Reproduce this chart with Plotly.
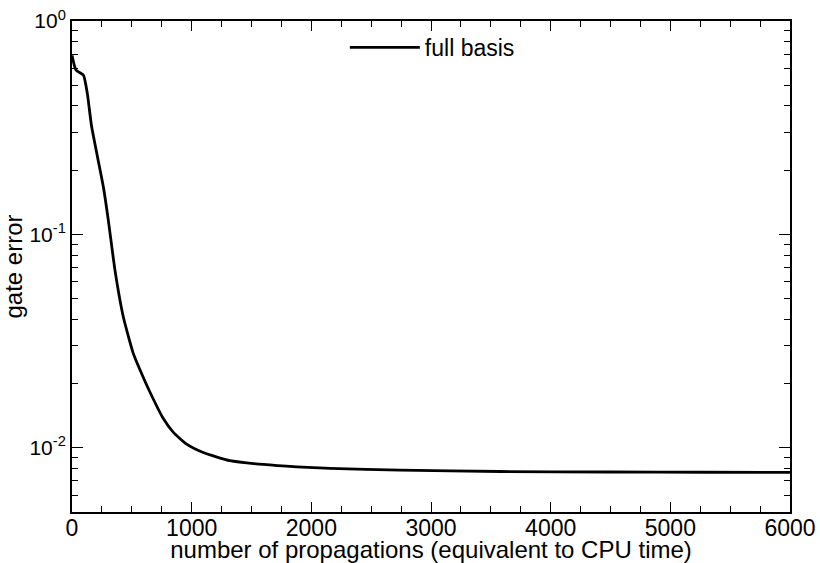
import numpy as np
import plotly.graph_objects as go

propagations = [0, 33, 95, 128, 164, 262, 303, 359, 429, 512, 568, 652, 763, 847,
                958, 1097, 1320, 1599, 1877, 2156, 2741, 3577, 4500, 5300, 6000]
gate_error = [0.69, 0.589, 0.558, 0.458, 0.32, 0.167, 0.117, 0.068, 0.041, 0.0277,
              0.0232, 0.0182, 0.0137, 0.0118, 0.0104, 0.0095, 0.0087, 0.00835,
              0.00814, 0.0080, 0.00785, 0.00774, 0.00770, 0.00768, 0.00766]

x_ticks = [0, 1000, 2000, 3000, 4000, 5000, 6000]
y_ticks = [1e-2, 1e-1, 1]
y_ticktext = ["10<sup>-2</sup>", "10<sup>-1</sup>", "10<sup>0</sup>"]
y_minor = [m * 10.0 ** e for e in (-3, -2, -1) for m in range(2, 10)]
x_minor = list(range(0, 6001, 250))

font = "Liberation Sans, Arial, sans-serif"
x_range = [0, 6000]
y_range = [float(np.log10(0.005)), 0]

fig = go.Figure()
fig.add_trace(go.Scatter(x=propagations, y=gate_error, mode="lines",
                         line=dict(color="black", width=2.8, shape="spline", smoothing=0.5),
                         name="full basis"))
# invisible copy on the mirrored axes so that their ticks are drawn
fig.add_trace(go.Scatter(x=propagations, y=gate_error, mode="lines", xaxis="x2", yaxis="y2",
                         line=dict(color="rgba(0,0,0,0)", width=0), showlegend=False,
                         hoverinfo="skip"))

common = dict(showline=True, linewidth=2, linecolor="black", showgrid=False,
              zeroline=False, ticks="inside", tickwidth=1.3, tickcolor="black",
              automargin=False)
minor_x = dict(tickvals=x_minor, ticks="inside", ticklen=6, tickwidth=1.3, tickcolor="black")
minor_y = dict(tickvals=y_minor, ticks="inside", ticklen=6, tickwidth=1.3, tickcolor="black")

fig.update_layout(
    width=820, height=563,
    margin=dict(l=72, r=30, t=21, b=51),
    paper_bgcolor="white", plot_bgcolor="white",
    font=dict(family=font, size=22, color="black"),
    showlegend=True,
    legend=dict(x=0.38, y=0.99, xanchor="left", yanchor="top",
                bgcolor="rgba(0,0,0,0)", font=dict(size=23), itemwidth=70),
    xaxis=dict(range=x_range, tickvals=x_ticks, ticklen=10, tickfont=dict(size=23),
               ticklabelstandoff=-6, minor=minor_x,
               title=dict(text="number of propagations (equivalent to CPU time)",
                          standoff=0, font=dict(size=24)),
               **common),
    yaxis=dict(type="log", range=y_range, tickvals=y_ticks, ticktext=y_ticktext,
               ticklen=11, tickfont=dict(size=21), minor=minor_y,
               title=dict(text="gate error", standoff=2, font=dict(size=24)),
               **common),
    xaxis2=dict(range=x_range, overlaying="x", side="top", anchor="y",
                tickvals=x_ticks, ticklen=10, showticklabels=False, minor=minor_x,
                **common),
    yaxis2=dict(type="log", range=y_range, overlaying="y", side="right", anchor="x",
                tickvals=y_ticks, ticklen=11, showticklabels=False, minor=minor_y,
                **common),
)
fig.write_html("out.html")
